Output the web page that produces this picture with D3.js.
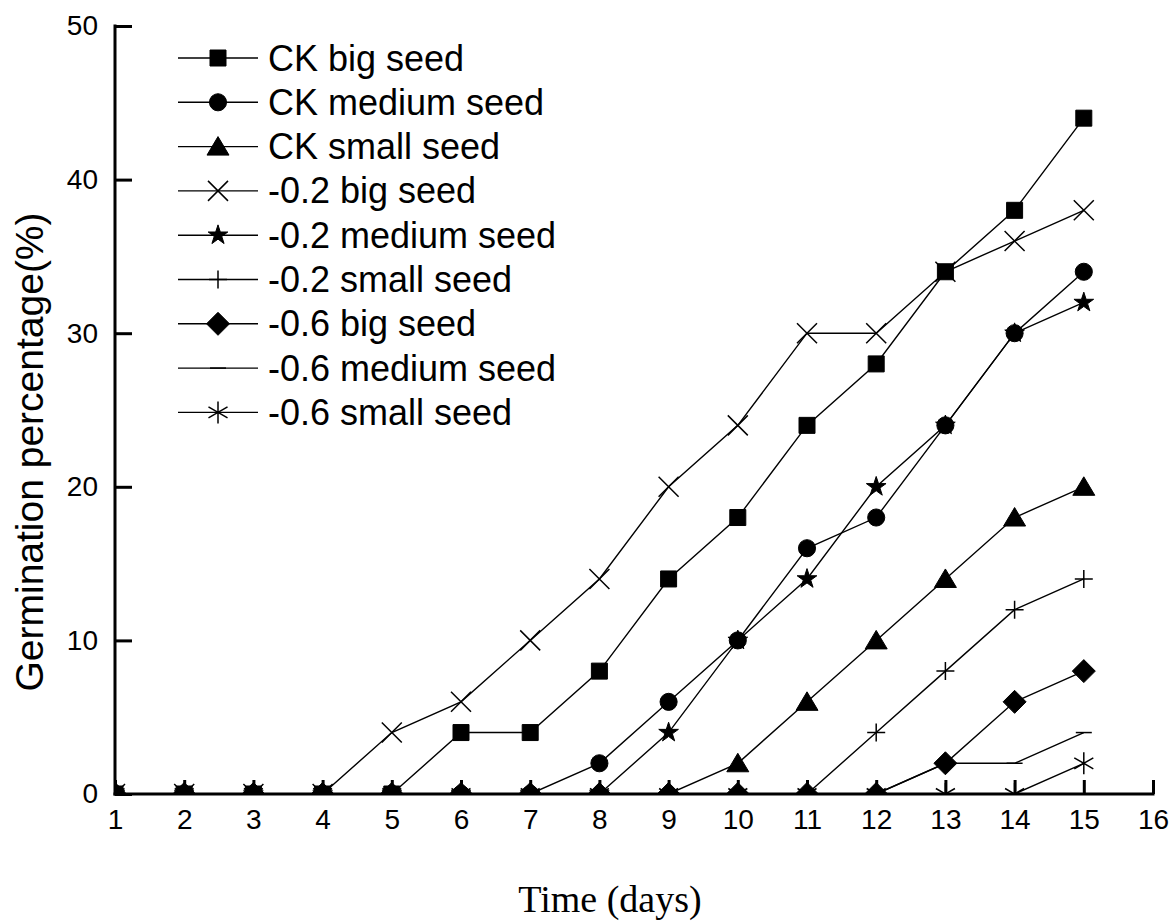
<!DOCTYPE html>
<html>
<head>
<meta charset="utf-8">
<script src="https://cdn.jsdelivr.net/npm/d3@7"></script>
<style>
  body { margin: 0; background: #fff; }
  svg { display: block; }
</style>
</head>
<body>
<div id="viz-wrapper"></div>
<script>
  // size of the svg
  var width = 1171,
      height = 924;

  // days on the x axis
  var days = [1, 2, 3, 4, 5, 6, 7, 8, 9, 10, 11, 12, 13, 14, 15];
  var xTicks = [1, 2, 3, 4, 5, 6, 7, 8, 9, 10, 11, 12, 13, 14, 15, 16];
  var yTicks = [0, 10, 20, 30, 40, 50];

  // series names and marker types, same order as the legend
  var names = ["CK big seed", "CK medium seed", "CK small seed",
               "-0.2 big seed", "-0.2 medium seed", "-0.2 small seed",
               "-0.6 big seed", "-0.6 medium seed", "-0.6 small seed"];
  var markers = ["square", "circle", "triangle", "cross", "star", "plus", "diamond", "dash", "asterisk"];

  // germination percentage per day, one array per series
  var ckBig      = [0, 0, 0, 0, 0, 4, 4, 8, 14, 18, 24, 28, 34, 38, 44];
  var ckMedium   = [0, 0, 0, 0, 0, 0, 0, 2, 6, 10, 16, 18, 24, 30, 34];
  var ckSmall    = [0, 0, 0, 0, 0, 0, 0, 0, 0, 2, 6, 10, 14, 18, 20];
  var m02Big     = [0, 0, 0, 0, 4, 6, 10, 14, 20, 24, 30, 30, 34, 36, 38];
  var m02Medium  = [0, 0, 0, 0, 0, 0, 0, 0, 4, 10, 14, 20, 24, 30, 32];
  var m02Small   = [0, 0, 0, 0, 0, 0, 0, 0, 0, 0, 0, 4, 8, 12, 14];
  var m06Big     = [0, 0, 0, 0, 0, 0, 0, 0, 0, 0, 0, 0, 2, 6, 8];
  var m06Medium  = [0, 0, 0, 0, 0, 0, 0, 0, 0, 0, 0, 0, 2, 2, 4];
  var m06Small   = [0, 0, 0, 0, 0, 0, 0, 0, 0, 0, 0, 0, 0, 0, 2];

  var seriesValues = [ckBig, ckMedium, ckSmall, m02Big, m02Medium, m02Small, m06Big, m06Medium, m06Small];

  // plot box (plotTop, not top: window.top is taken)
  var plotLeft = 115, plotRight = 1153, plotTop = 26, plotBottom = 794;

  var x = d3.scaleLinear().domain([1, 16]).range([plotLeft, plotRight]);
  var y = d3.scaleLinear().domain([0, 50]).range([plotBottom, plotTop]);

  var viz = d3.select("#viz-wrapper")
      .append("svg")
      .attr("width", width)
      .attr("height", height)
      .attr("font-family", "Liberation Sans, Arial, sans-serif");

  // marks are cut at the axes like in the original
  viz.append("clipPath").attr("id", "plotClip")
    .append("rect")
      .attr("x", plotLeft).attr("y", 0)
      .attr("width", width - plotLeft).attr("height", plotBottom);

  // returns path + whether it is filled, for each marker type
  function markerPath(type) {
    if (type == "square") return { d: d3.symbol(d3.symbolSquare, 256)(), fill: true };
    if (type == "circle") return { d: d3.symbol(d3.symbolCircle, 230)(), fill: true };
    if (type == "triangle") return { d: "M0,-10L11,8.5L-11,8.5Z", fill: true };
    if (type == "star") return { d: d3.symbol(d3.symbolStar, 120)(), fill: true };
    if (type == "diamond") return { d: "M0,-11.5L11.5,0L0,11.5L-11.5,0Z", fill: true };
    if (type == "cross") return { d: "M-10,-10L10,10M-10,10L10,-10", fill: false };
    if (type == "plus") return { d: "M-9,0H9M0,-9V9", fill: false };
    if (type == "dash") return { d: "M-8,0H8", fill: false };
    // asterisk: vertical + two diagonals
    var r = 11, a = Math.PI / 6;
    return {
      d: "M0," + (-r) + "V" + r +
         "M" + (-r * Math.cos(a)) + "," + (-r * Math.sin(a)) + "L" + (r * Math.cos(a)) + "," + (r * Math.sin(a)) +
         "M" + (-r * Math.cos(a)) + "," + (r * Math.sin(a)) + "L" + (r * Math.cos(a)) + "," + (-r * Math.sin(a)),
      fill: false
    };
  }

  function drawMarker(g, type, cx, cy) {
    var m = markerPath(type);
    g.append("path")
      .attr("d", m.d)
      .attr("transform", "translate(" + cx + "," + cy + ")")
      .attr("fill", m.fill ? "#000" : "none")
      .attr("stroke", "#000")
      .attr("stroke-width", m.fill ? 1 : 1.5);
  }

  var plot = viz.append("g").attr("clip-path", "url(#plotClip)");

  var line = d3.line()
      .x(function(d, i) { return x(days[i]); })
      .y(function(d) { return y(d); });

  seriesValues.forEach(function(vals, s) {
    plot.append("path")
      .attr("d", line(vals))
      .attr("fill", "none")
      .attr("stroke", "#000")
      .attr("stroke-width", 1.4);
    vals.forEach(function(v, i) {
      drawMarker(plot, markers[s], x(days[i]), y(v));
    });
  });

  // x axis, ticks pointing up
  var xAxis = d3.axisBottom(x)
      .tickValues(xTicks)
      .tickFormat(d3.format("d"))
      .tickSizeInner(-14)
      .tickSizeOuter(0)
      .tickPadding(15);

  var gx = viz.append("g")
      .attr("transform", "translate(0," + plotBottom + ")")
      .call(xAxis);
  gx.attr("font-size", 28).attr("font-family", "Liberation Sans, Arial, sans-serif");
  gx.select(".domain").attr("stroke-width", 3).attr("d", "M" + (plotLeft - 1.5) + ",0H" + (plotRight + 1.5));
  gx.selectAll(".tick line").attr("stroke-width", 3);
  gx.selectAll(".tick text").attr("fill", "#000");

  // y axis, ticks pointing right
  var yAxis = d3.axisLeft(y)
      .tickValues(yTicks)
      .tickSizeInner(-17)
      .tickSizeOuter(0)
      .tickPadding(17);

  var gy = viz.append("g")
      .attr("transform", "translate(" + plotLeft + ",0)")
      .call(yAxis);
  gy.attr("font-size", 28).attr("font-family", "Liberation Sans, Arial, sans-serif");
  gy.select(".domain").attr("stroke-width", 3).attr("d", "M0," + (plotTop - 1.5) + "V" + (plotBottom + 1.5));
  gy.selectAll(".tick line").attr("stroke-width", 3);
  gy.selectAll(".tick text").attr("fill", "#000");

  // axis titles
  viz.append("text")
      .attr("x", 610)
      .attr("y", 912)
      .attr("text-anchor", "middle")
      .attr("font-family", "Liberation Serif, Times New Roman, serif")
      .attr("font-size", 38)
      .text("Time (days)");

  viz.append("text")
      .attr("transform", "translate(43,452) rotate(-90)")
      .attr("text-anchor", "middle")
      .attr("font-size", 39)
      .text("Germination percentage(%)");

  // legend
  var legend = viz.append("g");
  names.forEach(function(name, i) {
    var ly = 58 + i * 44.3;
    legend.append("line")
      .attr("x1", 178).attr("x2", 258)
      .attr("y1", ly).attr("y2", ly)
      .attr("stroke", "#000")
      .attr("stroke-width", 1.4);
    drawMarker(legend, markers[i], 218, ly);
    legend.append("text")
      .attr("x", 268)
      .attr("y", ly + 12.5)
      .attr("font-size", 36)
      .text(name);
  });
</script>
</body>
</html>
